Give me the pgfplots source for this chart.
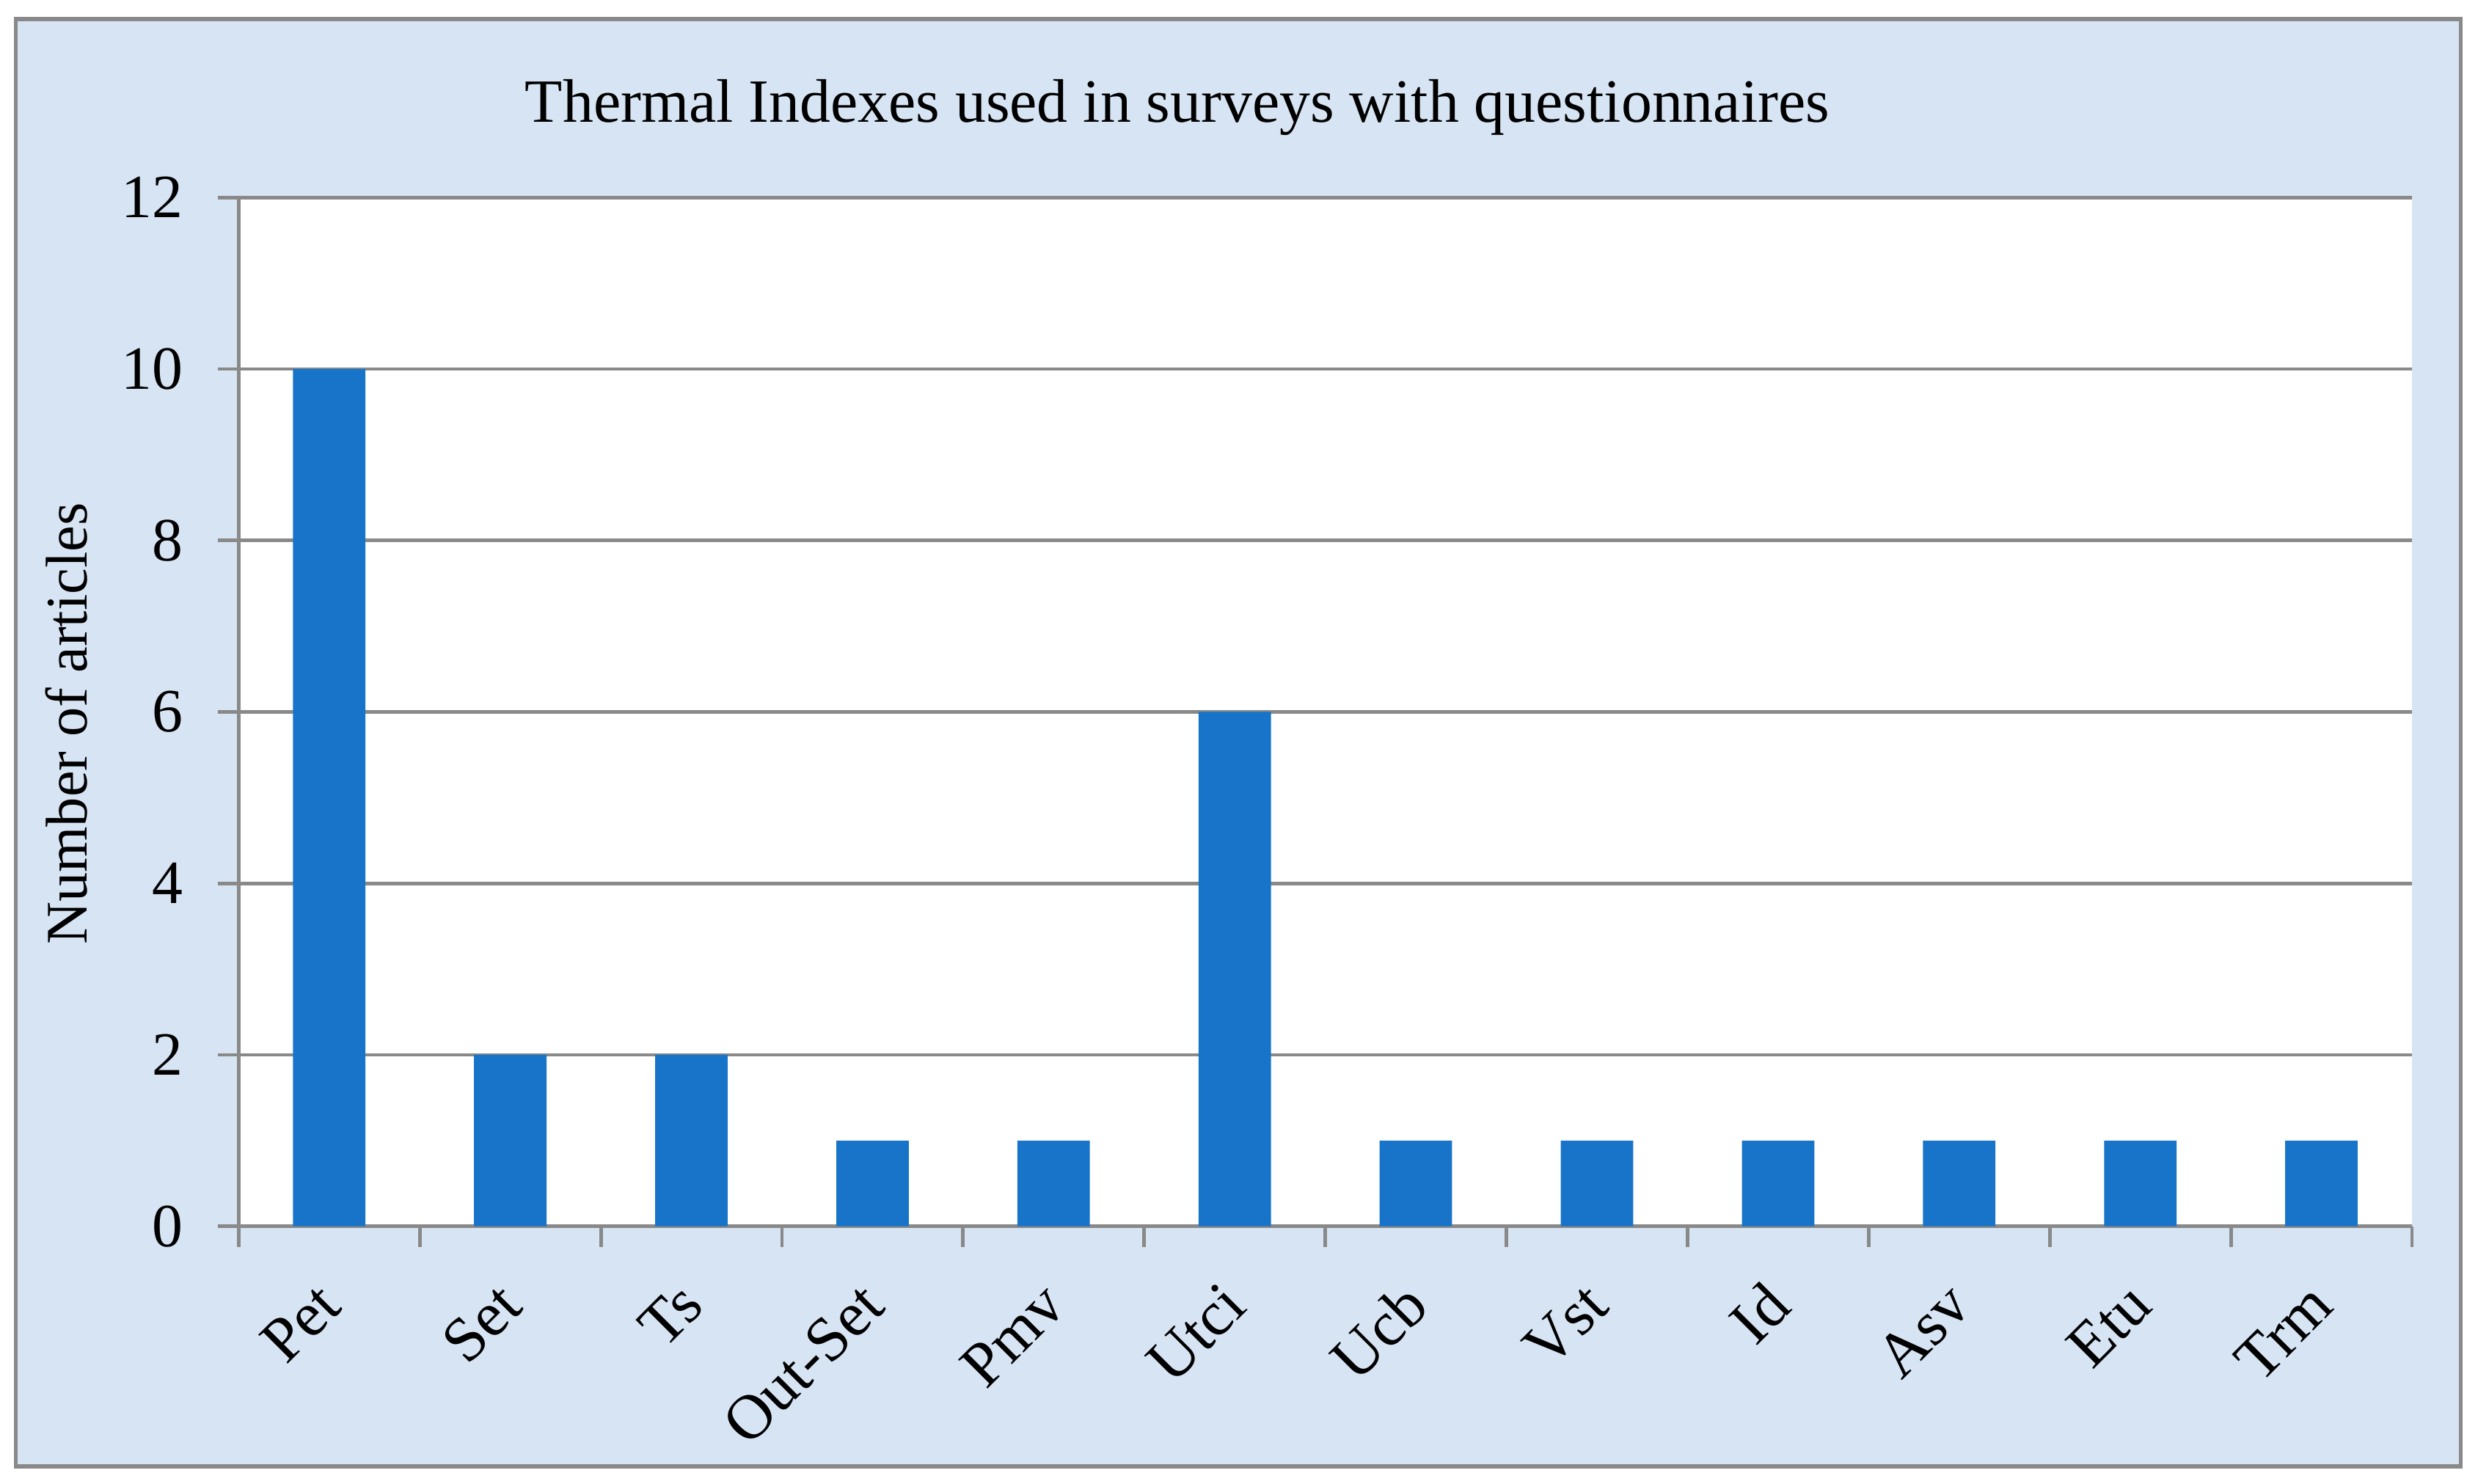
\documentclass[border=0pt]{standalone}
\usepackage{pgfplots}
\pgfplotsset{compat=1.18}
\usepackage{fontspec}
\setmainfont{Liberation Serif}
\definecolor{panelbg}{HTML}{D7E4F3}
\definecolor{barblue}{HTML}{1874C9}
\definecolor{linegray}{HTML}{898989}
\begin{document}
\fontsize{11.5}{13}\selectfont
\begin{tikzpicture}
	% page bounds and chart panel
	\path (-1.637,-1.767) rectangle (15.363,8.413);
	\draw[linegray, line width=0.8pt, fill=panelbg] (-1.529,-1.648) rectangle (15.244,8.283);
	\begin{axis}[
		at={(0,0)}, anchor=south west,
		scale only axis,
		width=14.91cm, height=7.058cm,
		axis background/.style={fill=white},
		xmin=-0.5, xmax=11.5,
		ymin=0, ymax=12,
		ytick={0,2,...,12},
		xtick={-0.5,0.5,...,11.5},
		xticklabels={},
		extra x ticks={0,1,...,11},
		extra x tick labels={Pet,Set,Ts,Out-Set,Pmv,Utci,Ucb,Vst,Id,Asv,Etu,Trm},
		extra x tick style={major tick length=0pt, grid=none,
			tick label style={font=\fontsize{12.3}{14}\selectfont, rotate=45, anchor=east, yshift=-0.33cm, xshift=-0.19cm}},
		tick align=outside,
		major tick length=0.14cm,
		ymajorgrids,
		grid style={linegray, line width=0.7pt},
		axis x line*=bottom, axis y line*=left,
		axis line style={linegray, line width=0.7pt, -},
		tick style={linegray, line width=0.7pt},
		yticklabel style={anchor=east, xshift=-0.1cm, font=\fontsize{12}{14}\selectfont},
		/pgf/number format/assume math mode=true,
		ybar, bar width=0.4,
		clip=false,
	]
		\addplot[draw=none, fill=barblue] coordinates {
			(0,10) (1,2) (2,2) (3,1) (4,1) (5,6)
			(6,1) (7,1) (8,1) (9,1) (10,1) (11,1)
		};
	\end{axis}
	\node[rotate=90] at (-1.182,3.448) {Number of articles};
	\node[font=\fontsize{12}{14}\selectfont] at (6.44,7.676) {Thermal Indexes used in surveys with questionnaires};
\end{tikzpicture}
\end{document}
